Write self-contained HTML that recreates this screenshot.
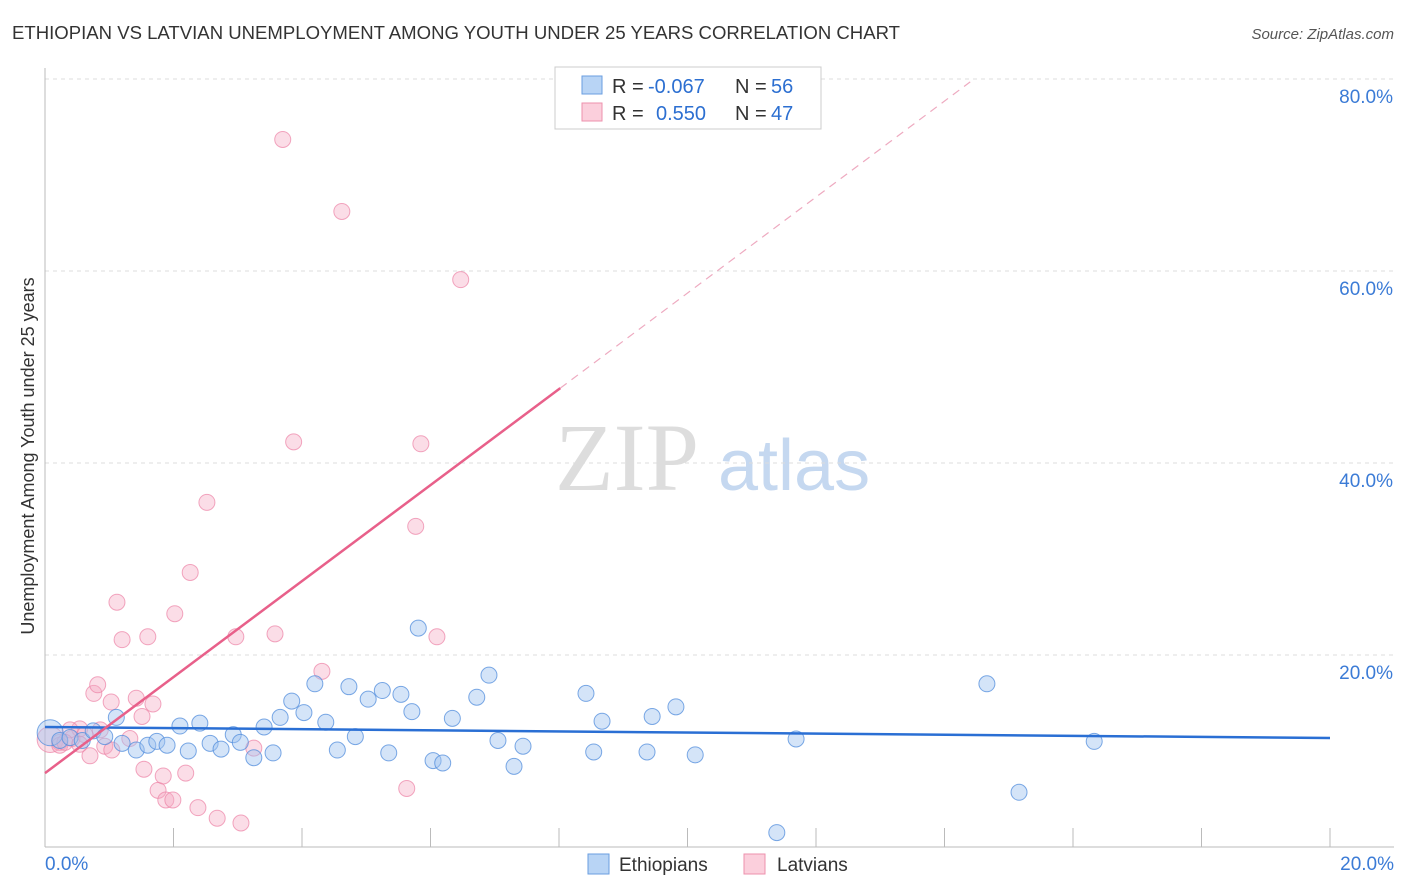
<!DOCTYPE html>
<html><head><meta charset="utf-8"><style>
body{margin:0;background:#fff;font-family:"Liberation Sans",sans-serif;}
svg{display:block}
</style></head><body>
<svg id="chart" width="1406" height="892">
<text x="12" y="39" font-size="18" fill="#333" textLength="888" lengthAdjust="spacingAndGlyphs">ETHIOPIAN VS LATVIAN UNEMPLOYMENT AMONG YOUTH UNDER 25 YEARS CORRELATION CHART</text>
<text x="1394" y="39" font-size="15" fill="#555" font-style="italic" text-anchor="end">Source: ZipAtlas.com</text>
<text x="34" y="456" font-size="18" fill="#333" text-anchor="middle" transform="rotate(-90 34 456)">Unemployment Among Youth under 25 years</text>
<text x="555" y="490" font-size="96" fill="#ddd" font-family="Liberation Serif">ZIP</text>
<text x="718" y="490" font-size="72" fill="#c5d8f0">atlas</text>
<g id="grid"></g><g id="pts"></g><g id="lines"></g>
<g>
<rect x="555" y="67" width="266" height="62" fill="#fff" stroke="#ccc"/>
<rect x="582" y="76" width="20" height="18" fill="#b8d4f5" stroke="#6a9ee0"/>
<rect x="582" y="103" width="20" height="18" fill="#fbcfdc" stroke="#ee90ad"/>
<text x="612" y="93" font-size="20" fill="#333">R =</text>
<text x="648" y="93" font-size="20" fill="#2c6fd1">-0.067</text>
<text x="735" y="93" font-size="20" fill="#333">N =</text>
<text x="771" y="93" font-size="20" fill="#2c6fd1">56</text>
<text x="612" y="120" font-size="20" fill="#333">R =</text>
<text x="656" y="120" font-size="20" fill="#2c6fd1">0.550</text>
<text x="735" y="120" font-size="20" fill="#333">N =</text>
<text x="771" y="120" font-size="20" fill="#2c6fd1">47</text>
</g>
<g>
<rect x="588" y="854" width="21" height="20" fill="#b8d4f5" stroke="#6a9ee0"/>
<text x="619" y="871" font-size="19" fill="#333">Ethiopians</text>
<rect x="744" y="854" width="21" height="20" fill="#fbcfdc" stroke="#ee90ad"/>
<text x="777" y="871" font-size="19" fill="#333">Latvians</text>
</g>
</svg>
<script>
const yTicks=[20,40,60,80];
const yTickLabels=["20.0%","40.0%","60.0%","80.0%"];
const xTickLabels=["0.0%","20.0%"];
const ethX=[0.08,0.23,0.39,0.58,0.75,0.93,1.11,1.20,1.42,1.60,1.74,1.90,2.10,2.23,2.41,2.57,2.74,2.93,3.04,3.25,3.41,3.55,3.66,3.84,4.03,4.20,4.37,4.55,4.73,4.83,5.03,5.25,5.35,5.54,5.71,5.81,6.04,6.19,6.34,6.72,6.91,7.05,7.30,7.44,8.42,8.54,8.67,9.37,9.45,9.82,10.12,11.39,11.69,14.66,15.16,16.33];
const ethY=[11.9,11.1,11.4,11.1,12.1,11.5,13.5,10.8,10.1,10.6,11.0,10.6,12.6,10.0,12.9,10.8,10.2,11.7,10.9,9.3,12.5,9.8,13.5,15.2,14.0,17.0,13.0,10.1,16.7,11.5,15.4,16.3,9.8,15.9,14.1,22.8,9.0,8.75,13.4,15.6,17.9,11.1,8.4,10.5,16.0,9.9,13.1,9.9,13.6,14.6,9.6,1.5,11.25,17.0,5.7,11.0];
const latX=[0.08,0.23,0.42,0.54,0.70,0.76,0.82,0.93,1.03,1.12,1.20,1.32,1.42,1.51,1.54,1.60,1.68,1.76,1.84,1.88,1.99,2.02,2.19,2.26,2.38,2.52,2.68,2.97,3.05,3.25,3.58,3.70,3.87,4.31,4.62,5.63,5.77,5.85,6.10,6.47,0.23,0.39,0.62,0.86,1.04,0.31,0.54];
const latY=[11.2,10.9,11.3,12.3,9.5,16.0,16.9,10.5,15.1,25.5,21.6,11.3,15.5,13.6,8.1,21.9,14.9,5.9,7.4,4.9,4.9,24.3,7.7,28.6,4.1,35.9,3.0,21.9,2.5,10.3,22.2,73.7,42.2,18.3,66.2,6.1,33.4,42.0,21.9,59.1,10.6,12.2,11.7,12.2,10.1,10.9,10.7];
const ethTrend=[12.5,11.35];
const latTrend=[7.7,5.0];
const X=v=>45+v*64.25, Y=v=>847-v*9.6;
const NS="http://www.w3.org/2000/svg";
function mk(t,a,p){const e=document.createElementNS(NS,t);for(const k in a)e.setAttribute(k,a[k]);p.appendChild(e);return e;}
const grid=document.getElementById('grid');
yTicks.forEach((t,i)=>{
 const l=mk('line',{x1:45,x2:1394,y1:Y(t),y2:Y(t),stroke:'#ddd','stroke-dasharray':'4,4'},grid);
 
 
 const tx=mk('text',{x:1393,y:Y(t)+24,'font-size':19,fill:'#3b7bd6','text-anchor':'end'},grid);tx.textContent=yTickLabels[i];
 
 
});
const ax=mk('line',{x1:45,x2:1394,y1:847,y2:847,stroke:'#bbb'},grid);


const ay=mk('line',{x1:45,x2:45,y1:68,y2:847,stroke:'#bbb'},grid);


for(let i=1;i<=10;i++){const t=mk('line',{x1:X(i*2),x2:X(i*2),y1:828,y2:847,stroke:'#bbb'},grid);
 
 }
[[0,'start',45],[20,'end',1394]].forEach((d,i)=>{const t=mk('text',{x:d[2],y:870,'font-size':19,fill:'#3b7bd6','text-anchor':d[1]},grid);t.textContent=xTickLabels[i];
 
 });
const pts=document.getElementById('pts');
latX.forEach((x,i)=>{const c=mk('circle',{cx:X(x),cy:Y(latY[i]),r:i==0?13:8,fill:'rgba(246,170,195,0.4)',stroke:'rgba(236,130,165,0.7)'},pts);
 
 });
ethX.forEach((x,i)=>{const c=mk('circle',{cx:X(x),cy:Y(ethY[i]),r:i==0?13:8,fill:'rgba(160,196,240,0.45)',stroke:'rgba(80,140,220,0.75)'},pts);
 
 });
const lines=document.getElementById('lines');
const bl=mk('line',{x1:X(0),y1:Y(ethTrend[0]),x2:X(20),y2:Y(ethTrend[1]),stroke:'#2a6fd4','stroke-width':2.5},lines);


const pl=mk('line',{x1:X(0),y1:Y(latTrend[0]),x2:X(8.02),y2:Y(latTrend[0]+latTrend[1]*8.02),stroke:'#e8608a','stroke-width':2.5},lines);


const pd=mk('line',{x1:X(8.02),y1:Y(latTrend[0]+latTrend[1]*8.02),x2:X(14.4),y2:Y(latTrend[0]+latTrend[1]*14.4),stroke:'#eeaac0','stroke-width':1.2,'stroke-dasharray':'8,6'},lines);


</script>
</body></html>
